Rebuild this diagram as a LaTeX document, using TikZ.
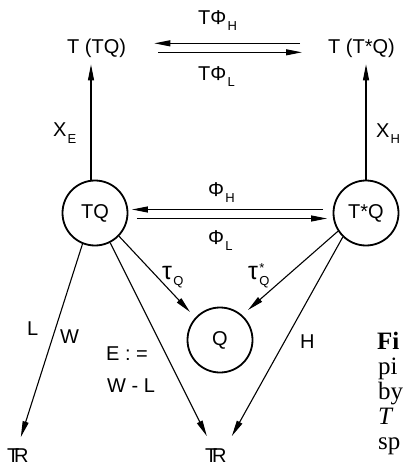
\documentclass[tikz,border=0pt]{standalone}
\usepackage{fontspec}
\setmainfont{Liberation Sans}
\newfontfamily\capfont{Liberation Serif}
\usetikzlibrary{arrows.meta}
\newcommand\sbx[1]{\kern0.06em\lower0.3em\hbox{\fontsize{13}{13}\selectfont #1}}
\newcommand\sbsp[2]{\kern0.06em\rlap{\raise0.32em\hbox{\fontsize{13}{13}\selectfont #1}}\lower0.3em\hbox{\fontsize{13}{13}\selectfont #2}}
\newcommand\tauc{{\fontsize{25}{25}\selectfont τ}}
\newcommand\TR{T\kern-0.27em R}
\begin{document}
\begin{tikzpicture}[x=1pt,y=-1pt,
  every node/.style={inner sep=0pt},
  lbl/.style={font=\fontsize{20}{20}\selectfont, anchor=base west},
  cir/.style={circle, draw, line width=1.8pt, minimum size=65pt, font=\fontsize{20}{20}\selectfont},
  arr/.style={line width=1.1pt, -{Triangle[length=16pt,width=6pt]}},
  captxt/.style={font=\capfont\fontsize{25}{25}\selectfont, anchor=base west}]
\useasboundingbox (0,0) rectangle (403,465);
% nodes
\node[lbl] (tTQ) at (67,54) {T (TQ)};
\node[lbl] (tTsQ) at (328,54) {T (T*Q)};
\node[cir] (TQ) at (95,213) {TQ};
\node[cir] (TsQ) at (366,213) {T*Q};
\node[cir] (Q) at (220,340) {Q};
\node[lbl] (R1) at (7,462) {\TR};
\node[lbl] (R2) at (205,462) {\TR};
% labels
\node[lbl] (lTPH) at (198,25) {TΦ\sbx{H}};
\node[lbl] (lTPL) at (198,81) {TΦ\sbx{L}};
\node[lbl] (lPH) at (208,196) {Φ\sbx{H}};
\node[lbl] (lPL) at (208,244) {Φ\sbx{L}};
\node[lbl] (lXE) at (53,137) {X\sbx{E}};
\node[lbl] (lXH) at (376,138) {X\sbx{H}};
\node[lbl] (ltau) at (162,279) {\tauc\sbx{Q}};
\node[lbl] (ltaus) at (248,279) {\tauc\sbsp{*}{Q}};
\node[lbl] (lL) at (27,335) {L};
\node[lbl] (lW) at (60,343) {W};
\node[lbl] (lE) at (106,360) {E : =};
\node[lbl] (lWL) at (107,392) {W - L};
\node[lbl] (lH) at (300,348) {H};
% caption fragments
\node[captxt] (c1) at (377,349) {\bfseries Fi};
\node[captxt] (c2) at (378,374) {pi};
\node[captxt] (c3) at (378,399) {by};
\node[captxt] (c4) at (378,424) {\itshape T};
\node[captxt] (c5) at (378,449) {sp};
% connectors
\draw[arr, shorten <=28pt, shorten >=28pt] ([yshift=5.5pt]tTsQ.west) -- ([yshift=5.5pt]tTQ.east);
\draw[arr, shorten <=32pt, shorten >=26pt] ([yshift=-3.5pt]tTQ.east) -- ([yshift=-3.5pt]tTsQ.west);
\draw[arr, shorten <=9.5pt, shorten >=3.5pt] ([yshift=3.5pt]TsQ.west) -- ([yshift=3.5pt]TQ.east);
\draw[arr, shorten <=8.5pt, shorten >=5.5pt] ([yshift=-5.5pt]TQ.east) -- ([yshift=-5.5pt]TsQ.west);
\draw[arr, shorten >=6pt] ([xshift=-4pt]TQ.north) -- ([xshift=-4pt]TQ.north |- tTQ.south);
\draw[arr, shorten >=6pt] (TsQ.north) -- (TsQ.north |- tTsQ.south);
\draw[arr] (TQ.248) -- ([shift={(3,-18)}]R1.center);
\draw[arr] (TQ.297) -- ([shift={(-9,-19)}]R2.center);
\draw[arr] (TQ.316) -- ([shift={(-30,-28)}]Q.center);
\draw[arr] (TsQ.213) -- ([shift={(28,-30)}]Q.center);
\draw[arr] (TsQ.226) -- ([shift={(16,-19)}]R2.center);
\end{tikzpicture}
\end{document}
